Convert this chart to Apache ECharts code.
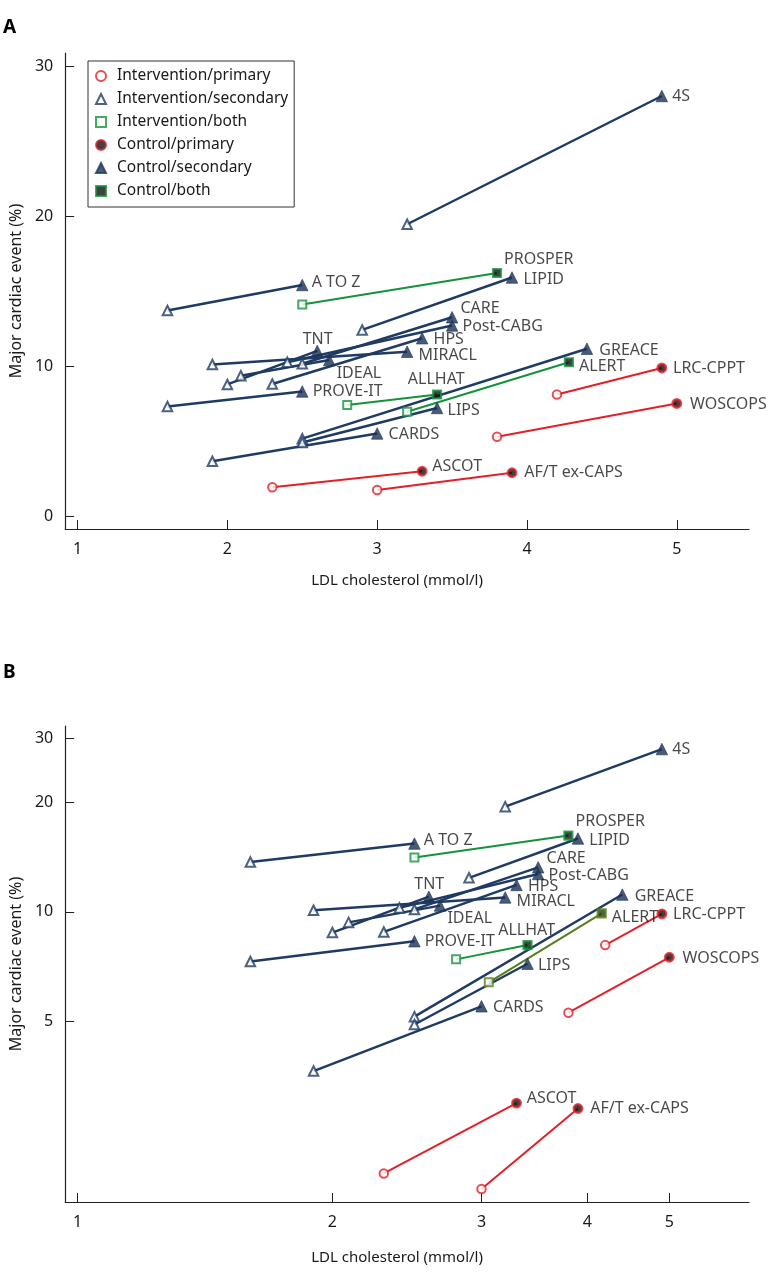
<!DOCTYPE html>
<html>
<head>
<meta charset="utf-8">
<script src="https://cdn.jsdelivr.net/npm/echarts@6/dist/echarts.min.js"></script>
<style>
html,body{margin:0;padding:0;background:#fff;}
#chart{width:784px;height:1280px;}
</style>
</head>
<body>
<div id="chart"></div>
<script>
// ---------------- data ----------------
const trials     = ['4S','A TO Z','PROSPER','LIPID','CARE','Post-CABG','TNT','IDEAL','HPS','MIRACL','PROVE-IT','GREACE','ALERT','ALLHAT','LIPS','CARDS','LRC-CPPT','WOSCOPS','ASCOT','AF/T ex-CAPS'];
const prevention = ['secondary','secondary','both','secondary','secondary','secondary','secondary','secondary','secondary','secondary','secondary','secondary','both','both','secondary','secondary','primary','primary','primary','primary'];
const intLDL     = [3.2, 1.6, 2.5, 2.9, 2.5, 2.4, 2.0, 2.09, 2.3, 1.9, 1.6, 2.5, 3.2, 2.8, 2.5, 1.9, 4.2, 3.8, 2.3, 3.0];
const intEvent   = [19.45, 13.7, 14.1, 12.4, 10.15, 10.25, 8.77, 9.35, 8.8, 10.1, 7.3, 5.15, 6.95, 7.4, 4.9, 3.65, 8.1, 5.28, 1.91, 1.73];
const ctrlLDL    = [4.9, 2.5, 3.8, 3.9, 3.5, 3.5, 2.6, 2.68, 3.3, 3.2, 2.5, 4.4, 4.28, 3.4, 3.4, 3.0, 4.9, 5.0, 3.3, 3.9];
const ctrlEvent  = [28.0, 15.4, 16.2, 15.9, 13.25, 12.7, 11.0, 10.4, 11.85, 10.95, 8.3, 11.15, 10.25, 8.1, 7.2, 5.5, 9.87, 7.5, 2.98, 2.88];
// panel B draws ALERT at slightly different values
const panelBAlert = { intLDL: 3.06, intEvent: 6.4, ctrlLDL: 4.16, ctrlEvent: 9.9 };
const groups     = ['primary','secondary','both'];
const xTicks     = [1, 2, 3, 4, 5];
const yTicksA    = [0, 10, 20, 30];
const yTicksB    = [5, 10, 20, 30];

// ---------------- styles ----------------
const FONT = 'Noto Sans';
const TXT = '#1a1a1a';
const AX = '#222';
const groupColor = { primary: '#e3202a', secondary: '#1f3b63', both: '#15933b' };
const olive = '#557f1f';
const lineWidth = { primary: 2, secondary: 2.4, both: 2 };
const intSym = {
  primary:   { symbol: 'circle',   size: 8.5, style: { color: '#fff', borderColor: groupColor.primary, borderWidth: 2 } },
  secondary: { symbol: 'triangle', size: 9.5, style: { color: '#fff', borderColor: groupColor.secondary, borderWidth: 2 } },
  both:      { symbol: 'rect',     size: 8,   style: { color: '#fff', borderColor: groupColor.both, borderWidth: 2 } }
};
const ctrlSym = {
  primary:   { symbol: 'circle',   size: 8.5, style: { color: '#111', borderColor: groupColor.primary, borderWidth: 2.4 } },
  secondary: { symbol: 'triangle', size: 11.5, style: { color: '#1a3152', borderColor: '#1f3b63', borderWidth: 0.8 } },
  both:      { symbol: 'rect',     size: 8,   style: { color: '#111', borderColor: groupColor.both, borderWidth: 2.2 } }
};
// label placement: [dx from point centre to text start, dy], 'c' = centred above
const labelPlace = {
  '4S':[10,0], 'PROSPER':[6,-14], 'LIPID':[11,2], 'CARE':[8,-9], 'Post-CABG':[10,1],
  'HPS':[11,1], 'MIRACL':[11,4], 'GREACE':[12,2], 'ALERT':[9,4], 'LRC-CPPT':[10,1],
  'WOSCOPS':[12,1], 'ALLHAT':[-2,-15,'c'], 'LIPS':[10,2], 'CARDS':[11,1], 'ASCOT':[9,-5],
  'AF/T ex-CAPS':[11,0], 'A TO Z':[9,-3], 'TNT':[0,-12,'c'], 'IDEAL':[7,13], 'PROVE-IT':[10,0]
};

function valuesFor(i, panel) {
  if (panel === 1 && trials[i] === 'ALERT') {
    return [panelBAlert.intLDL, panelBAlert.intEvent, panelBAlert.ctrlLDL, panelBAlert.ctrlEvent];
  }
  return [intLDL[i], intEvent[i], ctrlLDL[i], ctrlEvent[i]];
}

function buildSeries(panel) {
  const series = [];
  trials.forEach((t, i) => {
    const v = valuesFor(i, panel);
    const g = prevention[i];
    const col = (panel === 1 && t === 'ALERT') ? olive : groupColor[g];
    series.push({
      type: 'line', xAxisIndex: panel, yAxisIndex: panel, silent: true,
      symbol: 'none', z: 2,
      lineStyle: { color: col, width: lineWidth[g] },
      data: [[v[0], v[1]], [v[2], v[3]]]
    });
  });
  groups.forEach(g => {
    const s = intSym[g];
    const data = [];
    trials.forEach((t, i) => {
      if (prevention[i] !== g) return;
      const v = valuesFor(i, panel);
      const item = { value: [v[0], v[1]], name: t };
      if (panel === 1 && t === 'ALERT') item.itemStyle = { borderColor: olive };
      data.push(item);
    });
    series.push({
      name: 'Intervention/' + g, type: 'scatter', xAxisIndex: panel, yAxisIndex: panel,
      symbol: s.symbol, symbolSize: s.size, itemStyle: s.style, z: 4, data
    });
  });
  groups.forEach(g => {
    const s = ctrlSym[g];
    const data = [];
    trials.forEach((t, i) => {
      if (prevention[i] !== g) return;
      const v = valuesFor(i, panel);
      const p = labelPlace[t] || [10, 0];
      const item = {
        value: [v[2], v[3]], name: t,
        label: { offset: [p[0] - s.size / 2, p[1]], align: p[2] === 'c' ? 'center' : 'left' }
      };
      if (panel === 1 && t === 'ALERT') item.itemStyle = { borderColor: olive, color: '#2a3a12' };
      data.push(item);
    });
    series.push({
      name: 'Control/' + g, type: 'scatter', xAxisIndex: panel, yAxisIndex: panel,
      symbol: s.symbol, symbolSize: s.size, itemStyle: s.style, z: 5,
      label: { show: true, formatter: '{b}', position: 'right', distance: 0,
               fontFamily: FONT, fontSize: 16, color: TXT },
      data
    });
  });
  return series;
}

function xAxis(panel) {
  const isLog = panel === 1;
  return {
    gridIndex: panel, type: isLog ? 'log' : 'value', logBase: 10,
    min: isLog ? 0.967 : 0.9175, max: isLog ? 6.21 : 5.482,
    axisLine: { show: true, onZero: false, lineStyle: { color: AX, width: 1.2 } },
    axisTick: { show: true, inside: true, length: 9, customValues: xTicks, lineStyle: { color: AX, width: 1 } },
    axisLabel: { customValues: xTicks, fontFamily: FONT, fontSize: 16, color: TXT, margin: 12 },
    splitLine: { show: false },
    name: 'LDL cholesterol (mmol/l)', nameLocation: 'middle', nameGap: isLog ? 48 : 44,
    nameTextStyle: { fontFamily: FONT, fontSize: 15, color: TXT, padding: [0, 20, 0, 0] }
  };
}
function yAxis(panel) {
  const isLog = panel === 1;
  const ticks = isLog ? yTicksB : yTicksA;
  return {
    gridIndex: panel, type: isLog ? 'log' : 'value', logBase: 10,
    min: isLog ? 1.594 : -0.87, max: isLog ? 32.4 : 30.87,
    axisLine: { show: true, onZero: false, lineStyle: { color: AX, width: 1.2 } },
    axisTick: { show: true, inside: true, length: 9, customValues: ticks, lineStyle: { color: AX, width: 1 } },
    axisLabel: { customValues: ticks, fontFamily: FONT, fontSize: 16, color: TXT, margin: 12 },
    splitLine: { show: false },
    name: 'Major cardiac event (%)', nameLocation: 'middle', nameGap: 37, nameRotate: 90,
    nameTextStyle: { fontFamily: FONT, fontSize: 16, color: TXT }
  };
}

const chart = echarts.init(document.getElementById('chart'), null, { renderer: 'canvas' });
chart.setOption({
  animation: false,
  backgroundColor: '#fff',
  textStyle: { fontFamily: FONT },
  grid: [
    { left: 57.5, right: 35, top: 53, height: 476 },
    { left: 57.5, right: 35, top: 726, height: 476 }
  ],
  xAxis: [xAxis(0), xAxis(1)],
  yAxis: [yAxis(0), yAxis(1)],
  legend: {
    orient: 'vertical', left: 88, top: 61, selectedMode: false,
    data: ['Intervention/primary','Intervention/secondary','Intervention/both','Control/primary','Control/secondary','Control/both'],
    itemWidth: 10, itemHeight: 10, itemGap: 5, padding: [6, 6, 7, 7],
    borderColor: '#333', borderWidth: 1,
    textStyle: { fontFamily: FONT, fontSize: 15.5, lineHeight: 18, color: TXT, padding: [0, 0, 0, 6] }
  },
  graphic: [
    { type: 'text', left: 3, top: 18, style: { text: 'A', font: 'bold 19px "Noto Sans"', fill: '#000' } },
    { type: 'text', left: 3, top: 663, style: { text: 'B', font: 'bold 19px "Noto Sans"', fill: '#000' } }
  ],
  series: [...buildSeries(0), ...buildSeries(1)]
});
</script>
</body>
</html>
